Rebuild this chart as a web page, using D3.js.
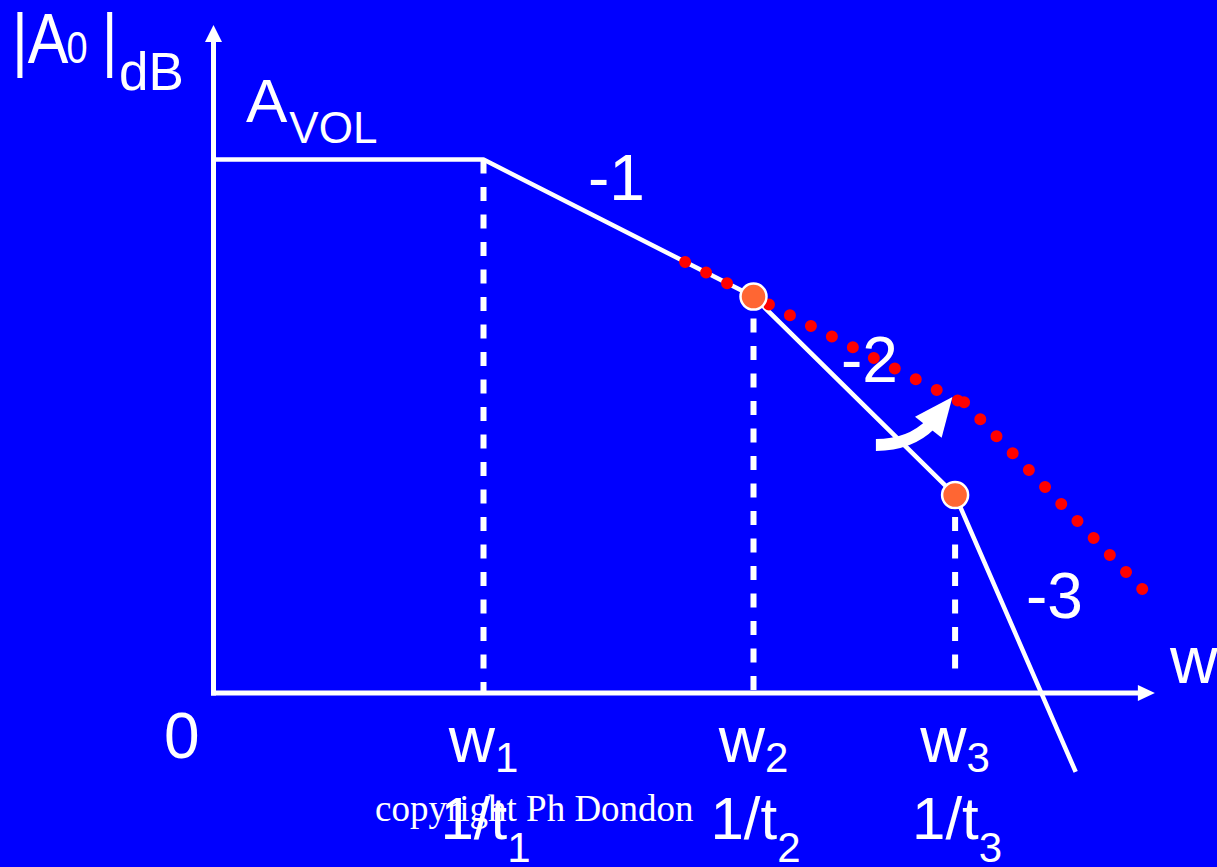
<!DOCTYPE html>
<html><head><meta charset="utf-8">
<script src="https://cdn.jsdelivr.net/npm/d3@7"></script>
<style>html,body{margin:0;padding:0;background:#0000FF;overflow:hidden;} svg{display:block;}</style>
</head><body>
<script>
// ---- data (x in log-frequency units, gain in dB) ----
const breakX   = [0, 3.0, 6.0, 8.24, 9.58];
const gainDb   = [100, 100, 74.3, 37.1, -14.8];
const poleIdx  = [1, 2, 3];                 // w1, w2, w3
const markIdx  = [2, 3];                    // orange markers
const redX1    = [5.24, 8.27];
const redDb1   = [80.8, 54.8];
const redX2    = [8.34, 10.32];
const redDb2   = [54.5, 19.5];
const arrowX   = [7.36, 7.74, 7.97, 8.21];
const arrowDb  = [46.5, 46.5, 50.4, 55.5];
const poleSubs = ["1", "2", "3"];
const slopeLabels = ["-1", "-2", "-3"];
const xAxisEnd = 10.46, yAxisTop = 125.2;

const W = 1217, H = 867;
const svg = d3.select("body").append("svg").attr("width", W).attr("height", H);
svg.append("rect").attr("width", W).attr("height", H).attr("fill", "#0000FF");

const x = d3.scaleLinear().domain([0, 10]).range([213.5, 1113.5]);
const y = d3.scaleLinear().domain([0, 100]).range([693, 159.5]);
const WHITE = "#FFFFFF";
const font = "'Liberation Sans', Arial, Helvetica, sans-serif";

// ---- axes ----
svg.append("line").attr("x1", x(0)).attr("x2", x(0)).attr("y1", y(0) + 2.5).attr("y2", y(yAxisTop) + 14)
  .attr("stroke", WHITE).attr("stroke-width", 5);
svg.append("path").attr("d", `M${x(0)},${y(yAxisTop)} L${x(0) - 8.5},${y(yAxisTop) + 17} L${x(0) + 8.5},${y(yAxisTop) + 17}Z`).attr("fill", WHITE);
svg.append("line").attr("x1", x(0) - 2.5).attr("x2", x(xAxisEnd) - 15).attr("y1", y(0)).attr("y2", y(0))
  .attr("stroke", WHITE).attr("stroke-width", 5);
svg.append("path").attr("d", `M${x(xAxisEnd)},${y(0)} L${x(xAxisEnd) - 17},${y(0) - 8} L${x(xAxisEnd) - 17},${y(0) + 8}Z`).attr("fill", WHITE);

// ---- dashed verticals ----
const dashEnd = [0, 0, 4.6];
poleIdx.forEach((i, k) => {
  const topOff = k === 0 ? 0 : 22;
  svg.append("line").attr("x1", x(breakX[i])).attr("x2", x(breakX[i]))
    .attr("y1", y(gainDb[i]) + topOff).attr("y2", y(dashEnd[k]))
    .attr("stroke", WHITE).attr("stroke-width", 6).attr("stroke-dasharray", "14 13.5");
});

// ---- asymptotic response ----
const line = d3.line().x(d => x(d[0])).y(d => y(d[1]));
svg.append("path").attr("d", line(breakX.map((v, i) => [v, gainDb[i]])))
  .attr("fill", "none").attr("stroke", WHITE).attr("stroke-width", 4.5).attr("stroke-linejoin", "round");

// ---- red dotted (compensated) response ----
[[redX1, redDb1], [redX2, redDb2]].forEach(([xs, ds]) => {
  const p = svg.append("path").attr("d", line(xs.map((v, i) => [v, ds[i]])))
    .attr("fill", "none").attr("stroke", "#FF0000").attr("stroke-width", 12)
    .attr("stroke-linecap", "round");
  const len = p.node().getTotalLength();
  const n = Math.max(1, Math.round(len / 23.5));
  p.attr("stroke-dasharray", `0 ${len / n - 0.01}`);
});

// ---- markers ----
svg.selectAll("circle.m").data(markIdx).join("circle").attr("class", "m")
  .attr("cx", i => x(breakX[i])).attr("cy", i => y(gainDb[i])).attr("r", 13)
  .attr("fill", "#FF6633").attr("stroke", WHITE).attr("stroke-width", 2.5);

// ---- curved arrow ----
const ap = arrowX.map((v, i) => [x(v), y(arrowDb[i])]);
svg.append("path").attr("d", `M${ap[0][0]},${ap[0][1]} Q${ap[1][0]},${ap[1][1]} ${ap[2][0]},${ap[2][1]}`)
  .attr("fill", "none").attr("stroke", WHITE).attr("stroke-width", 12);
{
  const [bx, by] = ap[2], [tx, ty] = ap[3];
  const dx = tx - bx, dy = ty - by, L = Math.hypot(dx, dy);
  const nx = -dy / L, ny = dx / L, hw = 17;
  const b0x = bx - dx / L * 4, b0y = by - dy / L * 4;
  svg.append("path").attr("d", `M${tx},${ty} L${b0x + nx * hw},${b0y + ny * hw} L${b0x - nx * hw},${b0y - ny * hw}Z`).attr("fill", WHITE);
}

// ---- texts ----
const T = (xx, yy, size) => svg.append("text").attr("x", xx).attr("y", yy)
  .attr("font-family", font).attr("font-size", size).attr("fill", WHITE);

// y-axis title |A0|dB
{
  const g = svg.append("g").attr("transform", "translate(12,63) scale(1,1.15)");
  const t = g.append("text").attr("font-family", font).attr("fill", WHITE);
  t.append("tspan").attr("font-size", 61).text("|A");
  t.append("tspan").attr("font-size", 38).attr("dx", -2).text("0");
  t.append("tspan").attr("font-size", 61).attr("dx", 14).text("|");
  T(119, 90, 53).text("dB");
}
// A_VOL
{
  const t = T(246, 122, 62);
  t.append("tspan").text("A");
  t.append("tspan").attr("font-size", 44).attr("dx", 2).attr("dy", 21).text("VOL");
}
// slope labels
const slopePos = [[588, 200], [841, 382], [1026, 618]];
slopeLabels.forEach((s, k) => T(slopePos[k][0], slopePos[k][1], 64).text(s));

// axis labels
T(1170, 683, 66).text("w");
T(164, 758, 64).text("0");

poleIdx.forEach((i, k) => {
  const cx = x(breakX[i]);
  const t1 = T(cx, 762, 64).attr("text-anchor", "middle");
  t1.append("tspan").text("w");
  t1.append("tspan").attr("font-size", 42).attr("dy", 10).text(poleSubs[k]);
  const t2 = T(cx + 2, 839, 60).attr("text-anchor", "middle");
  t2.append("tspan").text("1/t");
  t2.append("tspan").attr("font-size", 42).attr("dy", 23).text(poleSubs[k]);
});

// copyright
T(375, 821, 37).attr("font-family", "'Liberation Serif', 'Times New Roman', serif").text("copyright Ph Dondon");
</script>
</body></html>
